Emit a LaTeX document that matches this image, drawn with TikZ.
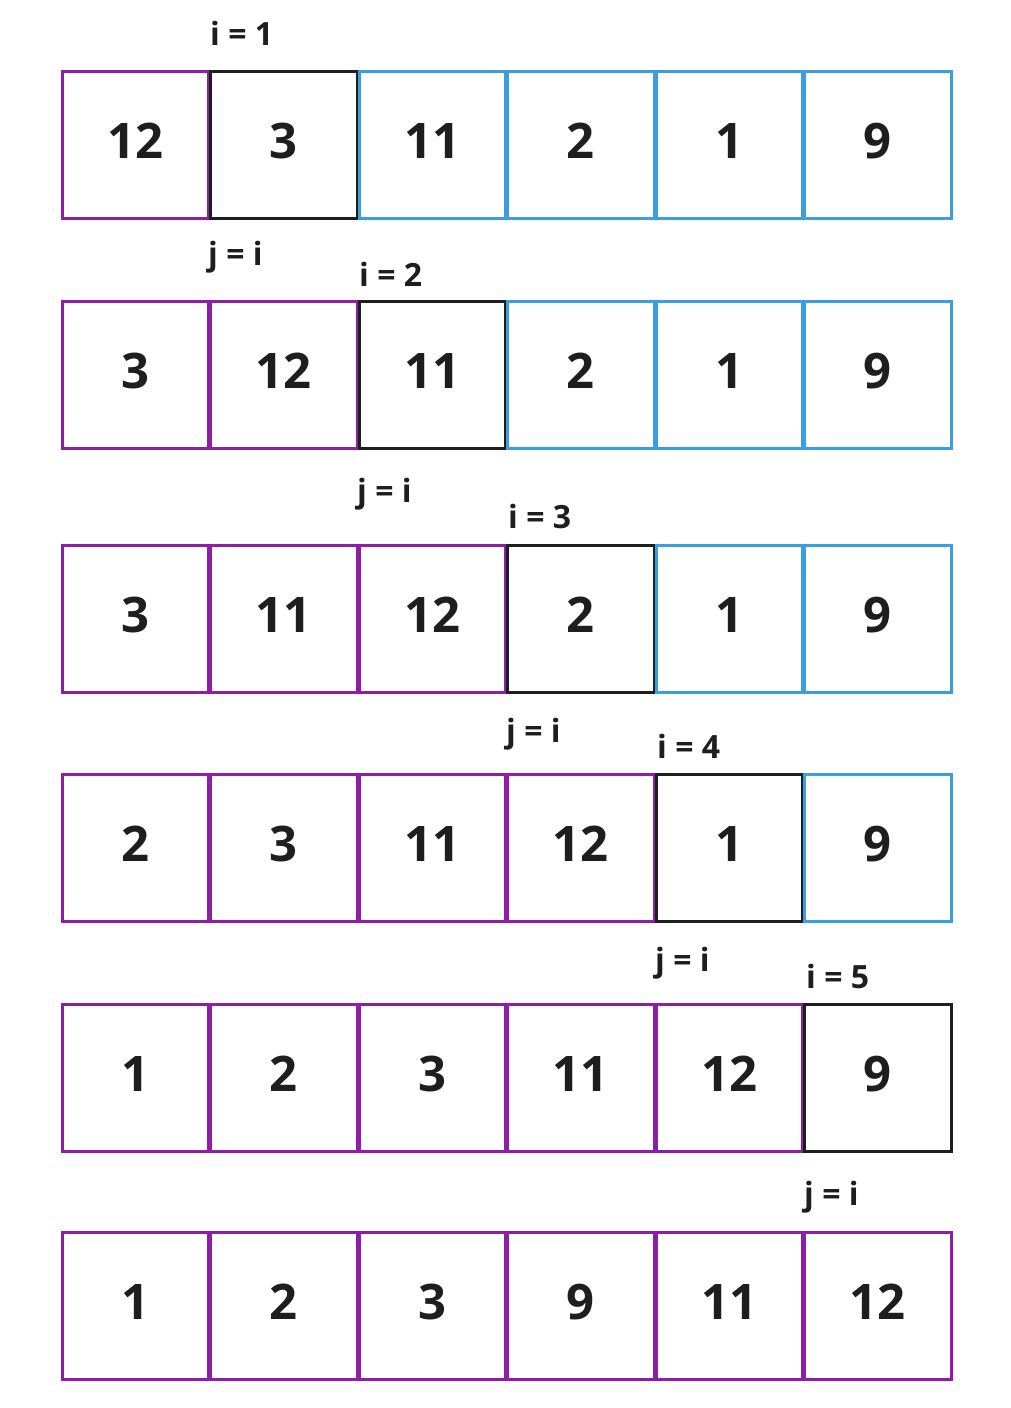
\documentclass[tikz,border=0pt]{standalone}
\usepackage{fontspec}
\setmainfont{Open Sans}[BoldFont={* Bold}]
\definecolor{cpurple}{RGB}{142,30,168}
\definecolor{cblue}{RGB}{60,158,224}
\definecolor{cblack}{RGB}{30,30,30}
\tikzset{
  cell/.style={draw=#1, line width=3pt, minimum width=146.5pt, minimum height=147.5pt, inner sep=0pt, outer sep=0pt, anchor=north west},
  num/.style={anchor=base, text=cblack, font=\fontsize{49}{49}\selectfont\bfseries},
  lbl/.style={anchor=base west, inner sep=0pt, text=cblack, font=\fontsize{32}{32}\selectfont\bfseries},
}
\begin{document}
\begin{tikzpicture}[x=1pt,y=-1pt]
\useasboundingbox (0,0) rectangle (1011,1408);
\def\rowdata{%
  1/71/{12,3,11,2,1,9}/{P,K,B,B,B,B},
  2/301/{3,12,11,2,1,9}/{P,P,K,B,B,B},
  3/545/{3,11,12,2,1,9}/{P,P,P,K,B,B},
  4/774/{2,3,11,12,1,9}/{P,P,P,P,K,B},
  5/1004/{1,2,3,11,12,9}/{P,P,P,P,P,K},
  6/1232/{1,2,3,9,11,12}/{P,P,P,P,P,P}}
\foreach \r/\ty/\vals/\cols in \rowdata {
  \foreach \v [count=\k from 0] in \vals {
    \pgfmathsetmacro{\xx}{62+148.5*\k}
    \foreach \c [count=\m from 0] in \cols {
      \ifnum\m=\k
        \if\c P
          \node[cell=cpurple] (c\r-\k) at (\xx,\ty) {};
        \fi
        \if\c B
          \node[cell=cblue] (c\r-\k) at (\xx,\ty) {};
        \fi
        \if\c K
          \node[cell=cblack] (c\r-\k) at (\xx,\ty) {};
        \fi
      \fi
    }
  }
}
\foreach \r/\ty/\vals/\cols in \rowdata {
  \foreach \v [count=\k from 0] in \vals {
    \pgfmathsetmacro{\xx}{62+148.5*\k+73.25}
    \pgfmathsetmacro{\yy}{\ty+87}
    \node[num] (n\r-\k) at (\xx,\yy) {\v};
  }
}
\node[lbl] (i1) at (210,45) {i = 1};
\node[lbl] (j1) at (208,265) {j = i};
\node[lbl] (i2) at (359,286) {i = 2};
\node[lbl] (j2) at (357,502) {j = i};
\node[lbl] (i3) at (508,528) {i = 3};
\node[lbl] (j3) at (506,742) {j = i};
\node[lbl] (i4) at (657,758) {i = 4};
\node[lbl] (j4) at (655,971) {j = i};
\node[lbl] (i5) at (806,988) {i = 5};
\node[lbl] (j5) at (804,1205) {j = i};
\end{tikzpicture}
\end{document}
